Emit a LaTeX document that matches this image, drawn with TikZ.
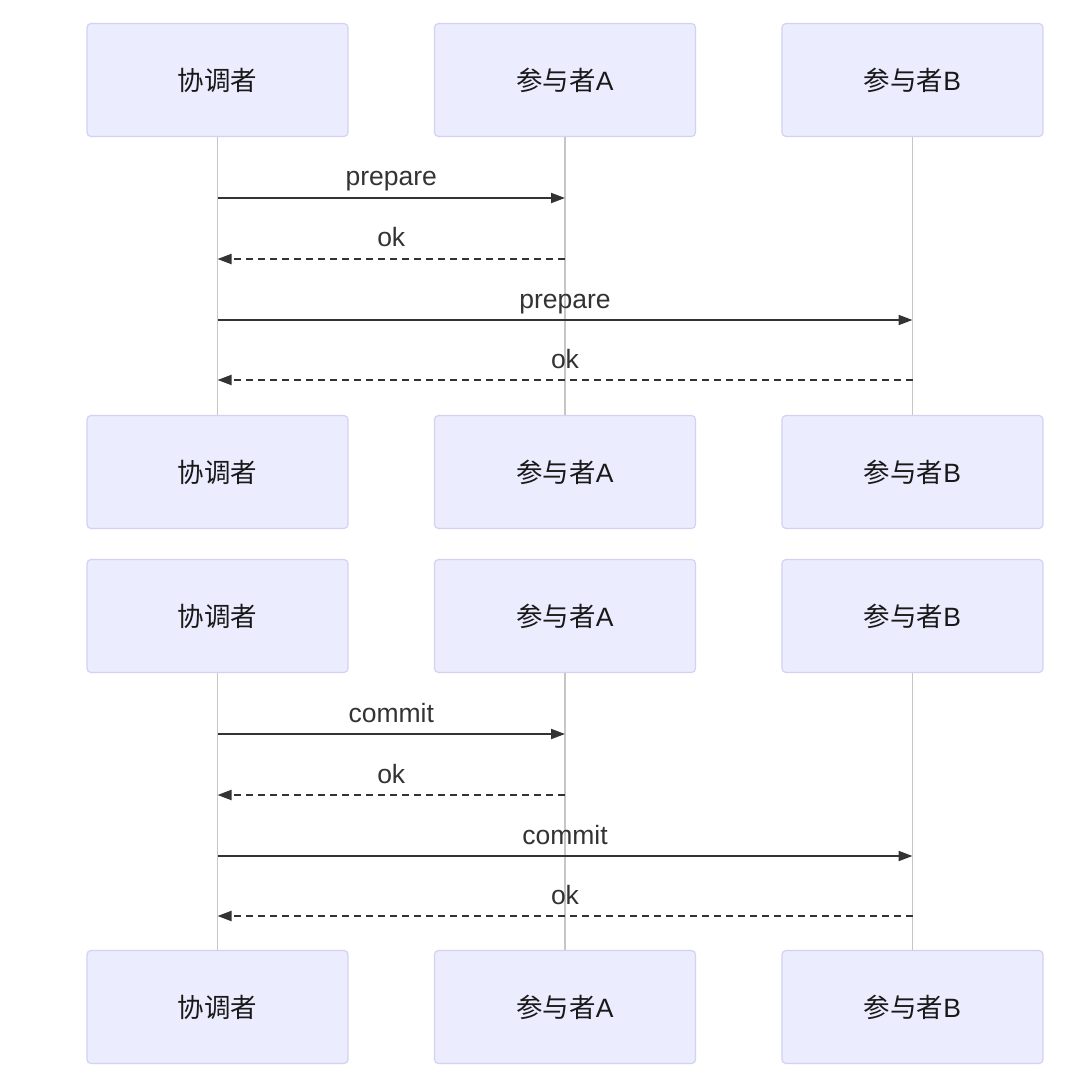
\documentclass[tikz,border=0pt]{standalone}
\usepackage{fontspec}
\setmainfont{Liberation Sans}
\newfontfamily\cjk{Noto Sans CJK SC}
\usetikzlibrary{arrows.meta,positioning}
\definecolor{actfill}{HTML}{ECECFF}
\definecolor{actdraw}{HTML}{D2D2F2}
\definecolor{lifegray}{HTML}{C6C6C6}
\definecolor{msgdark}{HTML}{333333}

\begin{document}
\begin{tikzpicture}[
 x=1pt,y=1pt,
 actor/.style={rectangle,rounded corners=4pt,draw=actdraw,fill=actfill,line width=1.2pt,minimum width=261pt,minimum height=113pt,font=\fontsize{26.5}{30}\selectfont,text=black!90},
 life/.style={draw=lifegray,line width=1.3pt},
 req/.style={-{Triangle[length=14pt,width=10pt]},draw=msgdark,line width=2pt},
 ack/.style={req,dash pattern=on 7pt off 5pt},
 lbl/.style={midway,anchor=base,yshift=12pt,inner sep=0pt,font=\fontsize{26.5}{30}\selectfont,text=msgdark}
]
\fill[white] (0,0) rectangle (1080,-1083);
\useasboundingbox (0,0) rectangle (1080,-1083);
\foreach \d/\yt/\yb/\msg in {1/80/472/prepare,2/616/1007/commit}{
  % participants, top and bottom
  \node[actor] (coT\d) at (217.5,-\yt) {\cjk 协调者};
  \node[actor] (paT\d) at (565,-\yt) {{\cjk 参与者}A};
  \node[actor] (pbT\d) at (912.5,-\yt) {{\cjk 参与者}B};
  \node[actor] (coB\d) at (217.5,-\yb) {\cjk 协调者};
  \node[actor] (paB\d) at (565,-\yb) {{\cjk 参与者}A};
  \node[actor] (pbB\d) at (912.5,-\yb) {{\cjk 参与者}B};
  \draw[life] (coT\d) -- (coB\d);
  \draw[life] (paT\d) -- (paB\d);
  \draw[life] (pbT\d) -- (pbB\d);
  % message rows
  \foreach \i/\dy in {1/118,2/179,3/240,4/300}{
    \coordinate (m\d\i) at (0,-\yt-\dy);
  }
  \draw[req] (coT\d |- m\d1) -- node[lbl] {\msg} (paT\d |- m\d1);
  \draw[ack] (paT\d |- m\d2) -- node[lbl] {ok} (coT\d |- m\d2);
  \draw[req] (coT\d |- m\d3) -- node[lbl] {\msg} (pbT\d |- m\d3);
  \draw[ack] (pbT\d |- m\d4) -- node[lbl] {ok} (coT\d |- m\d4);
}
\end{tikzpicture}
\end{document}
